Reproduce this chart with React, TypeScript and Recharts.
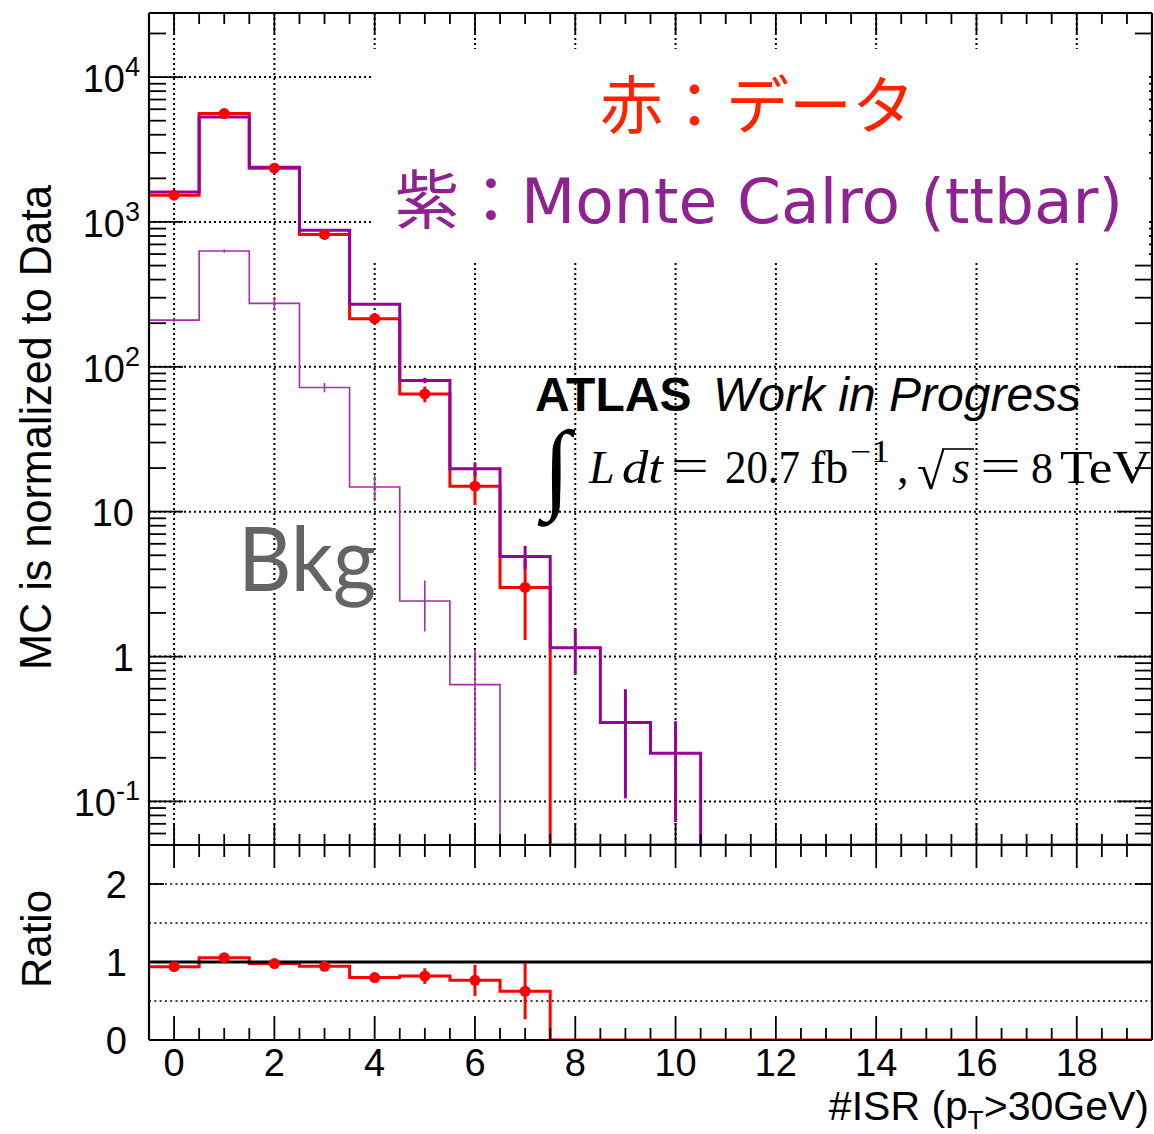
import React from 'react';
import {
  ComposedChart,
  Line,
  Scatter,
  ErrorBar,
  XAxis,
  YAxis,
  CartesianGrid,
  ReferenceLine,
} from 'recharts';

// Jet multiplicity bins: number of ISR jets with pT > 30 GeV
const BINS = [0, 1, 2, 3, 4, 5, 6, 7, 8, 9, 10, 11, 12, 13, 14, 15, 16, 17, 18, 19];

// Observed events per bin with statistical uncertainty
const DATA = [1530, 5600, 2350, 820, 215, 65, 15, 3, 0, 0, 0, 0, 0, 0, 0, 0, 0, 0, 0, 0];
const DATA_ERR = [39, 75, 48, 29, 15, 8.1, 3.9, 1.7, 0, 0, 0, 0, 0, 0, 0, 0, 0, 0, 0, 0];

// ttbar Monte Carlo, normalised to data
const MC = [1610, 5300, 2390, 875, 270, 80.5, 19.8, 4.9, 1.15, 0.35, 0.215, 0, 0, 0, 0, 0, 0, 0, 0, 0];
const MC_ERR = [5, 10, 7, 4, 2, 3.5, 2.1, 0.9, 0.4, 0.245, 0.143, 0, 0, 0, 0, 0, 0, 0, 0, 0];

// Background component
const BKG = [210, 630, 274, 72, 14.8, 2.42, 0.64, 0, 0, 0, 0, 0, 0, 0, 0, 0, 0, 0, 0, 0];
const BKG_ERR = [6.7, 17, 30, 5.3, 3, 0.93, 0.48, 0, 0, 0, 0, 0, 0, 0, 0, 0, 0, 0, 0, 0];

// Data / MC ratio
const RATIO = [0.94, 1.055, 0.98, 0.945, 0.8, 0.82, 0.765, 0.625, 0, 0, 0, 0, 0, 0, 0, 0, 0, 0, 0, 0];
const RATIO_ERR = [0.025, 0.015, 0.02, 0.035, 0.055, 0.1, 0.2, 0.36, 0, 0, 0, 0, 0, 0, 0, 0, 0, 0, 0, 0];

// Axis settings
const X_DOMAIN: [number, number] = [-0.5, 19.5];
const Y_MIN = 0.05;
const Y_MAX = 27700;
const X_MAJOR = [0, 2, 4, 6, 8, 10, 12, 14, 16, 18];
const Y_DECADES = [0.1, 1, 10, 100, 1000, 10000];
const RATIO_DOMAIN: [number, number] = [0, 2.5];
const RATIO_TICKS = [0, 1, 2];
const RATIO_GRID = [0.5, 1.5, 2];

const X_TICKS: number[] = [];
for (let i = 0; i <= 38; i++) X_TICKS.push(i * 0.5);

const Y_TICKS: number[] = [];
for (let e = -2; e <= 4; e++) {
  for (let m = 1; m <= 9; m++) {
    const v = Number((m * Math.pow(10, e)).toPrecision(6));
    if (v >= Y_MIN && v <= Y_MAX) Y_TICKS.push(v);
  }
}

const RED = '#ff0000';
const PURPLE = '#990099';
const PURPLE_THIN = '#a62dab';
const FONT = '"Liberation Sans", Arial, Helvetica, sans-serif';
const SERIF = '"Liberation Serif", "Times New Roman", serif';

// Histogram outline as a stepAfter polyline over bin edges
function stepPoints(values: number[], floor: number, dropAtEnd: boolean) {
  let last = values.length - 1;
  if (dropAtEnd) {
    while (last > 0 && values[last] <= 0) last--;
  }
  const pts: { x: number; y: number }[] = [];
  for (let i = 0; i <= last; i++) {
    pts.push({ x: BINS[i] - 0.5, y: values[i] > 0 ? values[i] : floor });
  }
  pts.push({ x: BINS[last] + 0.5, y: dropAtEnd ? floor : pts[pts.length - 1].y });
  return pts;
}

function pointsWithErr(values: number[], errs: number[], mask: number[]) {
  return BINS.filter((_, i) => mask[i] > 0).map((b) => ({ x: b, y: values[b], err: errs[b] }));
}

const dataSteps = stepPoints(DATA, Y_MIN, false);
const mcSteps = stepPoints(MC, Y_MIN, true);
const bkgSteps = stepPoints(BKG, Y_MIN, true);
const ratioSteps = stepPoints(RATIO, 0, false);

const dataPts = pointsWithErr(DATA, DATA_ERR, DATA);
const mcPts = pointsWithErr(MC, MC_ERR, MC);
const bkgPts = pointsWithErr(BKG, BKG_ERR, BKG);
const ratioPts = pointsWithErr(RATIO, RATIO_ERR, DATA);

const isMajorX = (v: number) => X_MAJOR.includes(v);
const isDecade = (v: number) => Math.abs(Math.log10(v) - Math.round(Math.log10(v))) < 1e-6;

// ---- tick renderers ----
function XTick(props: any) {
  const { x, y, payload, dir, major, minor, label } = props;
  const v = payload.value as number;
  const mj = isMajorX(v);
  const l = mj ? major : minor;
  return (
    <g>
      <line x1={x} x2={x} y1={y} y2={y + dir * l} stroke="#000" strokeWidth={1.8} />
      {label && mj ? (
        <text x={x} y={y + 36} textAnchor="middle" fontSize={38} fontFamily={FONT} fill="#000">
          {v}
        </text>
      ) : null}
    </g>
  );
}

function LogYTick(props: any) {
  const { x, y, payload, dir, major, minor, label } = props;
  const v = payload.value as number;
  const mj = isDecade(v);
  const l = mj ? major : minor;
  let text: React.ReactNode = null;
  if (label && mj) {
    const e = Math.round(Math.log10(v));
    if (e === 0 || e === 1) {
      text = (
        <text x={x - 15} y={y + 14} textAnchor="end" fontSize={38} fontFamily={FONT} fill="#000">
          {e === 0 ? '1' : '10'}
        </text>
      );
    } else {
      text = (
        <text x={x - 9} y={y + 15} textAnchor="end" fontSize={38} fontFamily={FONT} fill="#000">
          <tspan>10</tspan>
          <tspan dy={-16} fontSize={27}>
            {String(e)}
          </tspan>
        </text>
      );
    }
  }
  return (
    <g>
      <line x1={x} x2={x + dir * l} y1={y} y2={y} stroke="#000" strokeWidth={1.8} />
      {text}
    </g>
  );
}

function RatioYTick(props: any) {
  const { x, y, payload, dir, len, label } = props;
  const v = payload.value as number;
  return (
    <g>
      <line x1={x} x2={x + dir * len} y1={y} y2={y} stroke="#000" strokeWidth={1.8} />
      {label ? (
        <text x={x - 22} y={y + 14} textAnchor="end" fontSize={38} fontFamily={FONT} fill="#000">
          {v}
        </text>
      ) : null}
    </g>
  );
}

const frame = { stroke: '#000', strokeWidth: 2.2 };
const noShape = () => <g />;

function xAxes(bottom: [number, number, boolean], top: [number, number]) {
  return [
    <XAxis
      key="xb"
      xAxisId="b"
      type="number"
      dataKey="x"
      domain={X_DOMAIN}
      allowDataOverflow
      ticks={X_TICKS}
      interval={0}
      height={1}
      tickSize={0}
      tickMargin={0}
      axisLine={frame}
      tick={(p: any) => <XTick {...p} dir={-1} major={bottom[0]} minor={bottom[1]} label={bottom[2]} />}
    />,
    <XAxis
      key="xt"
      xAxisId="t"
      orientation="top"
      type="number"
      dataKey="x"
      domain={X_DOMAIN}
      allowDataOverflow
      ticks={X_TICKS}
      interval={0}
      height={1}
      tickSize={0}
      tickMargin={0}
      axisLine={frame}
      tick={(p: any) => <XTick {...p} dir={1} major={top[0]} minor={top[1]} label={false} />}
    />,
  ];
}

function TopPanel() {
  return (
    <ComposedChart width={1154} height={846} margin={{ top: 12, right: 1, bottom: 0, left: 0 }}>
      <CartesianGrid
        xAxisId="b"
        yAxisId="l"
        horizontalValues={Y_DECADES}
        verticalValues={X_MAJOR}
        stroke="#000"
        strokeWidth={2}
        strokeDasharray="2 3"
      />
      {xAxes([22, 11, false], [20, 11])}
      <YAxis
        yAxisId="l"
        scale="log"
        type="number"
        dataKey="y"
        domain={[Y_MIN, Y_MAX]}
        allowDataOverflow
        ticks={Y_TICKS}
        interval={0}
        width={149}
        tickSize={0}
        tickMargin={0}
        axisLine={frame}
        tick={(p: any) => <LogYTick {...p} dir={1} major={34} minor={17} label />}
      />
      <YAxis
        yAxisId="r"
        orientation="right"
        scale="log"
        type="number"
        dataKey="y"
        domain={[Y_MIN, Y_MAX]}
        allowDataOverflow
        ticks={Y_TICKS}
        interval={0}
        width={1}
        tickSize={0}
        tickMargin={0}
        axisLine={frame}
        tick={(p: any) => <LogYTick {...p} dir={-1} major={35} minor={17} label={false} />}
      />

      <Line
        xAxisId="b"
        yAxisId="l"
        data={dataSteps}
        dataKey="y"
        type="stepAfter"
        stroke={RED}
        strokeWidth={3}
        dot={false}
        isAnimationActive={false}
      />
      <Line
        xAxisId="b"
        yAxisId="l"
        data={mcSteps}
        dataKey="y"
        type="stepAfter"
        stroke={PURPLE}
        strokeWidth={3}
        dot={false}
        isAnimationActive={false}
      />
      <Line
        xAxisId="b"
        yAxisId="l"
        data={bkgSteps}
        dataKey="y"
        type="stepAfter"
        stroke={PURPLE_THIN}
        strokeWidth={1.6}
        dot={false}
        isAnimationActive={false}
      />
      <Scatter xAxisId="b" yAxisId="l" data={dataPts} dataKey="y" shape={noShape} isAnimationActive={false}>
        <ErrorBar dataKey="err" direction="y" width={0} stroke={RED} strokeWidth={3} isAnimationActive={false} />
      </Scatter>
      <Scatter xAxisId="b" yAxisId="l" data={mcPts} dataKey="y" shape={noShape} isAnimationActive={false}>
        <ErrorBar dataKey="err" direction="y" width={0} stroke={PURPLE} strokeWidth={3} isAnimationActive={false} />
      </Scatter>
      <Scatter xAxisId="b" yAxisId="l" data={bkgPts} dataKey="y" shape={noShape} isAnimationActive={false}>
        <ErrorBar
          dataKey="err"
          direction="y"
          width={0}
          stroke={PURPLE_THIN}
          strokeWidth={1.6}
          isAnimationActive={false}
        />
      </Scatter>
      <Scatter
        xAxisId="b"
        yAxisId="l"
        data={dataPts}
        dataKey="y"
        isAnimationActive={false}
        shape={(p: any) => <circle cx={p.cx} cy={p.cy} r={5.5} fill={RED} />}
      />
    </ComposedChart>
  );
}

function RatioPanel() {
  return (
    <ComposedChart width={1154} height={290} margin={{ top: 0, right: 1, bottom: 93, left: 0 }}>
      <CartesianGrid
        xAxisId="b"
        yAxisId="l"
        horizontalValues={RATIO_GRID}
        vertical={false}
        stroke="#000"
        strokeWidth={1.5}
        strokeDasharray="2 3.3"
      />
      {xAxes([24, 12, true], [23, 12])}
      <YAxis
        yAxisId="l"
        type="number"
        dataKey="y"
        domain={RATIO_DOMAIN}
        allowDataOverflow
        ticks={RATIO_TICKS}
        interval={0}
        width={149}
        tickSize={0}
        tickMargin={0}
        axisLine={frame}
        tick={(p: any) => <RatioYTick {...p} dir={1} len={15} label />}
      />
      <YAxis
        yAxisId="r"
        orientation="right"
        type="number"
        dataKey="y"
        domain={RATIO_DOMAIN}
        allowDataOverflow
        ticks={RATIO_TICKS}
        interval={0}
        width={1}
        tickSize={0}
        tickMargin={0}
        axisLine={frame}
        tick={(p: any) => <RatioYTick {...p} dir={-1} len={17} label={false} />}
      />
      <Line
        xAxisId="b"
        yAxisId="l"
        data={ratioSteps}
        dataKey="y"
        type="stepAfter"
        stroke={RED}
        strokeWidth={3}
        dot={false}
        isAnimationActive={false}
      />
      <ReferenceLine xAxisId="b" yAxisId="l" y={1} stroke="#000" strokeWidth={2.8} />
      <Scatter
        xAxisId="b"
        yAxisId="l"
        data={ratioPts}
        dataKey="y"
        isAnimationActive={false}
        shape={(p: any) => <circle cx={p.cx} cy={p.cy} r={5.5} fill={RED} />}
      >
        <ErrorBar dataKey="err" direction="y" width={0} stroke={RED} strokeWidth={3} isAnimationActive={false} />
      </Scatter>
    </ComposedChart>
  );
}

function Annotations() {
  return (
    <svg
      width={1154}
      height={1134}
      style={{ position: 'absolute', left: 0, top: 0, pointerEvents: 'none' }}
    >
      {/* label box in the upper right */}
      <rect x={372} y={49} width={777} height={213} fill="#fff" />
      <text x={600} y={128} fontSize={63} fontFamily='"Noto Sans CJK JP"' fill="#ff2200">
        赤：データ
      </text>
      <text x={395} y={223} fontSize={64} fontFamily='"Noto Sans CJK JP"' fill="#8f2291">
        紫：
      </text>
      <text
        x={521}
        y={223}
        fontSize={62}
        fontFamily='"DejaVu Sans"'
        fill="#8f2291"
        textLength={602}
        lengthAdjust="spacingAndGlyphs"
      >
        Monte Calro (ttbar)
      </text>

      {/* experiment label */}
      <text x={535} y={411} fontSize={48} fontWeight="bold" fontFamily={FONT} fill="#000">
        ATLAS
      </text>
      <text x={713} y={411} fontSize={48} fontStyle="italic" fontFamily={FONT} fill="#000">
        Work in Progress
      </text>

      {/* luminosity and energy */}
      <text x={543} y={500} fontSize={100} fontStyle="italic" fontFamily={SERIF} fill="#000">
        ∫
      </text>
      <text x={589} y={483} fontSize={46} fontStyle="italic" fontFamily={SERIF} fill="#000">
        L
      </text>
      <text
        x={622}
        y={483}
        fontSize={46}
        fontStyle="italic"
        fontFamily={SERIF}
        fill="#000"
        textLength={41}
        lengthAdjust="spacingAndGlyphs"
      >
        dt
      </text>
      <text x={671} y={481} fontSize={46} fontFamily={SERIF} fill="#000" textLength={38} lengthAdjust="spacingAndGlyphs">
        =
      </text>
      <text x={725} y={483} fontSize={46} fontFamily={SERIF} fill="#000" textLength={75} lengthAdjust="spacingAndGlyphs">
        20.7
      </text>
      <text x={810} y={483} fontSize={46} fontFamily={SERIF} fill="#000">
        fb
      </text>
      <text x={850} y={462} fontSize={31} fontFamily={SERIF} fill="#000" textLength={40} lengthAdjust="spacingAndGlyphs">
        −1
      </text>
      <text x={897} y={483} fontSize={46} fontFamily={SERIF} fill="#000">
        ,
      </text>
      <text x={917} y={489} fontSize={50} fontFamily={SERIF} fill="#000">
        √
      </text>
      <line x1={942} x2={974} y1={449} y2={449} stroke="#000" strokeWidth={1.6} />
      <text x={952} y={483} fontSize={46} fontStyle="italic" fontFamily={SERIF} fill="#000">
        s
      </text>
      <text x={980} y={481} fontSize={46} fontFamily={SERIF} fill="#000" textLength={41} lengthAdjust="spacingAndGlyphs">
        =
      </text>
      <text x={1031} y={483} fontSize={44} fontFamily={SERIF} fill="#000">
        8
      </text>
      <text x={1060} y={483} fontSize={46} fontFamily={SERIF} fill="#000" textLength={91} lengthAdjust="spacingAndGlyphs">
        TeV
      </text>

      {/* background label */}
      <text
        x={238}
        y={591}
        fontSize={89}
        fontFamily="Lato, 'Open Sans', sans-serif"
        fill="#646464"
        textLength={138}
        lengthAdjust="spacingAndGlyphs"
      >
        Bkg
      </text>

      {/* axis titles */}
      <text
        transform="translate(51 427.5) rotate(-90)"
        textAnchor="middle"
        fontSize={44}
        fontFamily={FONT}
        fill="#000"
        textLength={485}
        lengthAdjust="spacingAndGlyphs"
      >
        MC is normalized to Data
      </text>
      <text
        transform="translate(51 939) rotate(-90)"
        textAnchor="middle"
        fontSize={43}
        fontFamily={FONT}
        fill="#000"
        textLength={98}
        lengthAdjust="spacingAndGlyphs"
      >
        Ratio
      </text>
      <text x={1149} y={1120} textAnchor="end" fontSize={41} fontFamily={FONT} fill="#000">
        #ISR (p
        <tspan fontSize={26} dy={9}>
          T
        </tspan>
        <tspan fontSize={41} dy={-9}>
          {'>30GeV)'}
        </tspan>
      </text>
    </svg>
  );
}

export default function App() {
  return (
    <div
      style={{ position: 'absolute', left: 0, top: 0, width: 1154, height: 1134, background: '#fff', overflow: 'hidden' }}
    >
      <div style={{ position: 'absolute', left: 0, top: 0 }}>
        <TopPanel />
      </div>
      <div style={{ position: 'absolute', left: 0, top: 844 }}>
        <RatioPanel />
      </div>
      <Annotations />
    </div>
  );
}
